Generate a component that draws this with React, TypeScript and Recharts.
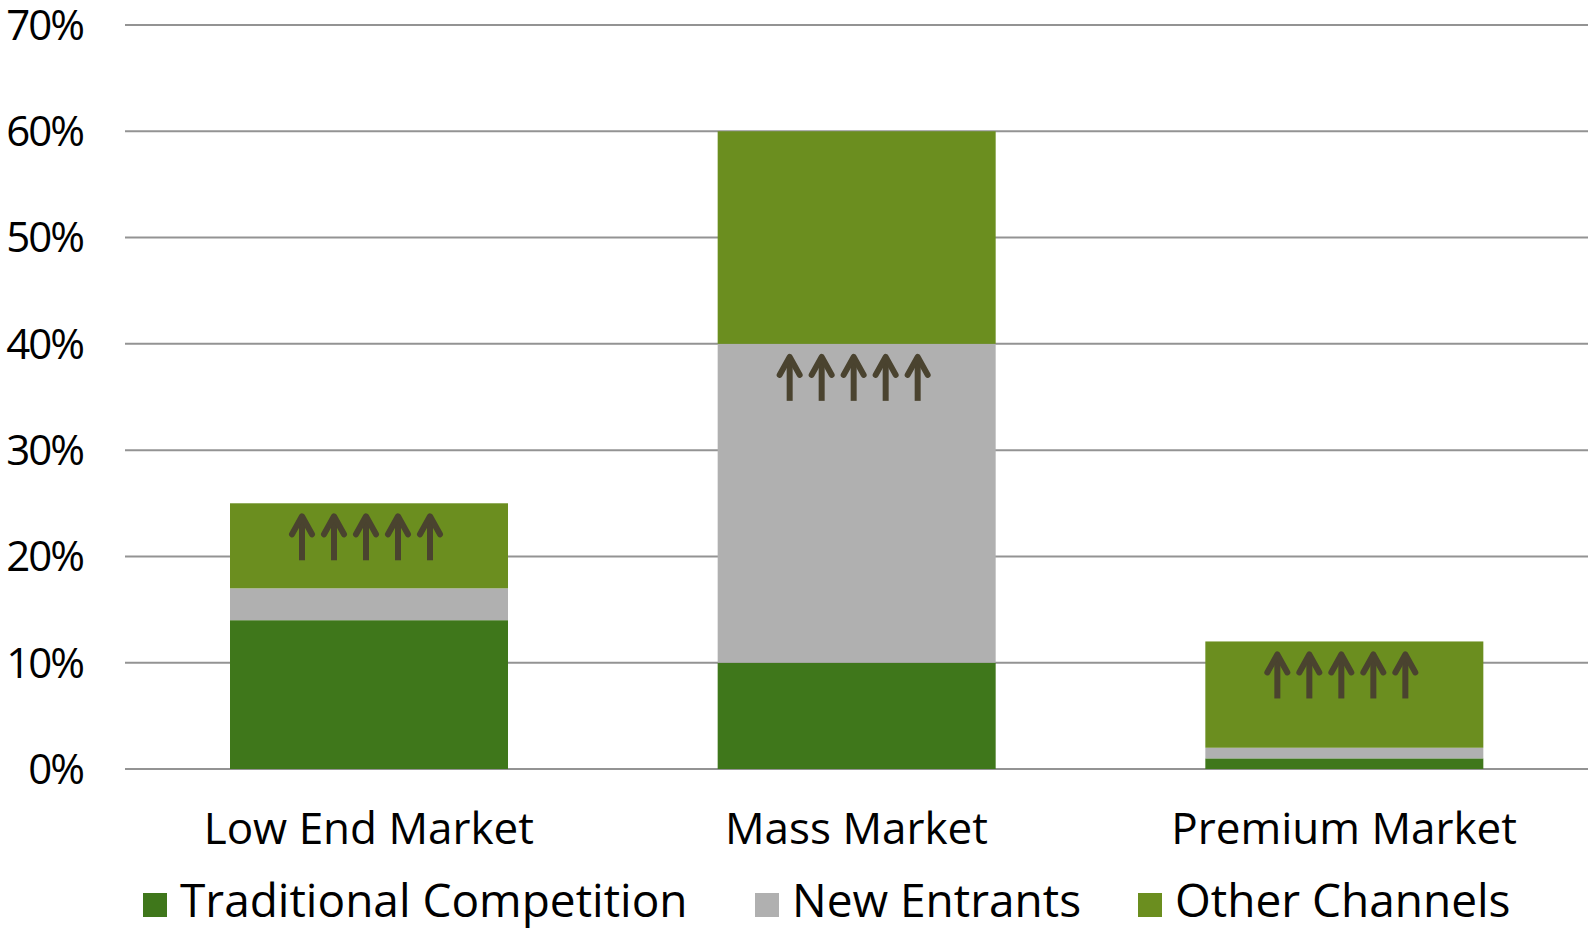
import React from 'react';
import { BarChart, Bar, XAxis, YAxis, CartesianGrid, Legend } from 'recharts';

const categories = ['Low End Market', 'Mass Market', 'Premium Market'];
const traditional = [14, 10, 1];
const newEntrants = [3, 30, 1];
const otherChannels = [8, 20, 10];
// stacked segment that carries the growth arrows, per category
const arrowSegment = ['other', 'entrants', 'other'];
const yTicks = [0, 10, 20, 30, 40, 50, 60, 70];

const series = [
    { key: 'traditional', name: 'Traditional Competition', color: '#3f771b' },
    { key: 'entrants', name: 'New Entrants', color: '#b0b0b0' },
    { key: 'other', name: 'Other Channels', color: '#6b8e1f' },
];

const data = categories.map((name, i) => ({
    name,
    traditional: traditional[i],
    entrants: newEntrants[i],
    other: otherChannels[i],
}));

const FONT = "'Open Sans', sans-serif";
const ARROW_COLOR = '#4a432f';
const legendLeft = [143, 755, 1138];

function makeSegment(seriesKey: string, color: string) {
    return (props: any) => {
        const { x, y, width, height, index } = props;
        const showArrows = arrowSegment[index] === seriesKey;
        const cx = x + width / 2 - 3;
        const tip = y + 10;
        return (
            <g>
                <rect x={x} y={y} width={width} height={height} fill={color} />
                {showArrows && [-2, -1, 0, 1, 2].map(k => {
                    const ax = cx + k * 32;
                    return (
                        <g key={k}>
                            <line x1={ax} y1={tip + 4} x2={ax} y2={tip + 47} stroke={ARROW_COLOR} strokeWidth={6} />
                            <polyline
                                points={`${ax - 10},${tip + 21} ${ax},${tip + 3} ${ax + 10},${tip + 21}`}
                                fill="none"
                                stroke={ARROW_COLOR}
                                strokeWidth={6}
                                strokeLinecap="round"
                                strokeLinejoin="round"
                            />
                        </g>
                    );
                })}
            </g>
        );
    };
}

function LegendRow() {
    return (
        <div style={{ position: 'relative', width: 1593, height: 70, fontFamily: FONT, fontSize: 46, color: '#000' }}>
            {series.map((s, i) => (
                <div
                    key={s.key}
                    style={{ position: 'absolute', left: legendLeft[i], top: 16, display: 'flex', alignItems: 'flex-start', lineHeight: 1 }}
                >
                    <span style={{ display: 'inline-block', width: 24, height: 24, background: s.color, marginTop: 17, marginRight: 13 }} />
                    <span style={{ whiteSpace: 'nowrap' }}>{s.name}</span>
                </div>
            ))}
        </div>
    );
}

export default function App() {
    return (
        <div style={{ position: 'absolute', left: 0, top: 0, width: 1593, height: 930, background: '#fff' }}>
            <BarChart width={1593} height={930} data={data} margin={{ top: 25, right: 5, left: 0, bottom: 0 }}>
                <CartesianGrid vertical={false} stroke="#939393" strokeWidth={2} />
                <XAxis
                    dataKey="name"
                    axisLine={false}
                    tickLine={false}
                    tickSize={0}
                    tickMargin={44}
                    height={91}
                    interval={0}
                    tick={{ fontSize: 44, fill: '#000', fontFamily: FONT }}
                />
                <YAxis
                    width={125}
                    domain={[0, 70]}
                    ticks={yTicks}
                    axisLine={false}
                    tickLine={false}
                    tickSize={0}
                    tickMargin={42}
                    tickFormatter={(v) => `${v}%`}
                    tick={{ fontSize: 42, fill: '#000', fontFamily: FONT, letterSpacing: -2 }}
                />
                <Legend
                    verticalAlign="bottom"
                    content={() => <LegendRow />}
                    wrapperStyle={{ left: 0, bottom: 0, width: 1593, height: 70 }}
                />
                {series.map(s => (
                    <Bar
                        key={s.key}
                        dataKey={s.key}
                        name={s.name}
                        stackId="a"
                        fill={s.color}
                        barSize={278}
                        shape={makeSegment(s.key, s.color)}
                        isAnimationActive={false}
                    />
                ))}
            </BarChart>
        </div>
    );
}
